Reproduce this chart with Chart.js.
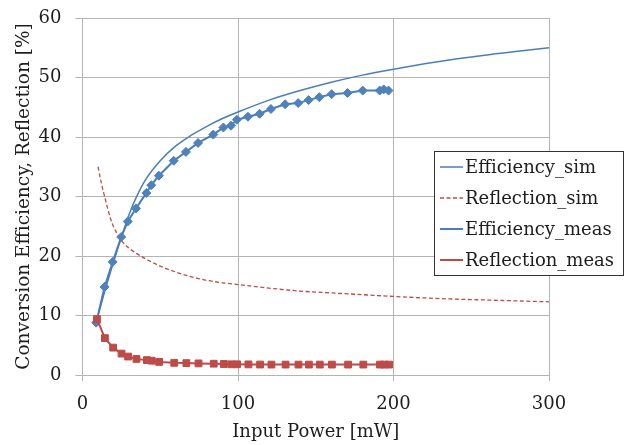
<!DOCTYPE html>
<html>
<head>
<meta charset="utf-8">
<script src="https://cdn.jsdelivr.net/npm/chart.js@4/dist/chart.umd.min.js"></script>
<style>
html,body{margin:0;padding:0;background:#fff;}
#wrap{width:632px;height:445px;}
</style>
</head>
<body>
<div id="wrap"><canvas id="c" width="632" height="445"></canvas></div>
<script>
// ---- data ----
const simX = [10, 12, 15, 18, 20, 22, 25, 30, 35, 40, 50, 60, 70, 80, 90, 100, 120, 140, 160, 180, 200, 220, 240, 260, 280, 300];
const effSim = [10.0, 11.9, 14.7, 17.3, 19.0, 20.7, 23.1, 27.0, 30.1, 32.6, 36.0, 38.5, 40.3, 41.8, 43.1, 44.2, 46.2, 47.8, 49.2, 50.4, 51.4, 52.3, 53.1, 53.8, 54.4, 55.0];
const reflSim = [35.0, 32.4, 29.2, 26.3, 24.9, 23.9, 22.6, 21.3, 20.4, 19.6, 18.3, 17.3, 16.5, 15.9, 15.5, 15.2, 14.6, 14.1, 13.8, 13.5, 13.2, 12.95, 12.75, 12.6, 12.45, 12.3];

const effMeasX = [8.8, 14.2, 19.4, 24.9, 29.1, 34.4, 41.1, 44.2, 49.1, 58.7, 66.5, 74.3, 84.1, 90.6, 95.5, 99.3, 106.4, 113.9, 121.2, 130.3, 138.7, 145.4, 152.3, 160.2, 170.4, 180.2, 191.1, 193.7, 196.8];
const effMeas = [8.8, 14.8, 19.0, 23.2, 25.8, 28.0, 30.6, 31.9, 33.5, 36.0, 37.5, 39.0, 40.4, 41.6, 41.9, 42.9, 43.4, 43.9, 44.7, 45.5, 45.7, 46.2, 46.7, 47.2, 47.4, 47.8, 47.8, 48.0, 47.8];

const reflMeasX = [9.3, 14.4, 19.7, 25.1, 29.3, 34.7, 41.4, 44.5, 49.3, 59.0, 66.8, 74.6, 84.4, 90.9, 95.8, 99.4, 106.7, 114.2, 121.5, 130.6, 138.9, 145.6, 152.6, 160.4, 170.8, 180.6, 191.3, 194.0, 197.2];
const reflMeas = [9.4, 6.2, 4.6, 3.6, 3.1, 2.7, 2.5, 2.4, 2.2, 2.05, 2.0, 1.95, 1.9, 1.85, 1.8, 1.8, 1.78, 1.76, 1.75, 1.75, 1.75, 1.75, 1.75, 1.75, 1.75, 1.75, 1.75, 1.75, 1.75];

const seriesLabels = ['Efficiency_sim', 'Reflection_sim', 'Efficiency_meas', 'Reflection_meas'];
const xTitle = 'Input Power [mW]';
const yTitle = 'Conversion Efficiency, Reflection [%]';

const pts = (xs, ys) => xs.map((x, i) => ({x: x, y: ys[i]}));

const BLUE = '#4a7ebb';
const BLUE_M = '#4f81bd';
const RED = '#be4b48';
const FONT = "'DejaVu Serif', serif";
const TXT = '#1e1e1e';
const GRID = '#b4b4b4';

const legendPlugin = {
  id: 'boxLegend',
  afterDraw(chart) {
    const ctx = chart.ctx;
    const bx = 434.5, by = 151.5, bw = 189, bh = 124;
    ctx.save();
    ctx.fillStyle = '#fff';
    ctx.fillRect(bx, by, bw, bh);
    ctx.strokeStyle = '#333';
    ctx.lineWidth = 1;
    ctx.strokeRect(bx, by, bw, bh);
    const rows = [167, 198, 229, 260];
    chart.data.datasets.forEach((ds, i) => {
      const y = rows[i];
      ctx.save();
      ctx.strokeStyle = ds.borderColor;
      ctx.lineWidth = ds.borderWidth;
      ctx.setLineDash(ds.borderDash || []);
      ctx.beginPath();
      ctx.moveTo(440, y);
      ctx.lineTo(463, y);
      ctx.stroke();
      ctx.restore();
      if (ds.pointRadius > 0) {
        ctx.save();
        ctx.fillStyle = ds.pointBackgroundColor;
        ctx.strokeStyle = ds.pointBorderColor;
        ctx.lineWidth = 1;
        Chart.helpers.drawPoint(ctx, {pointStyle: ds.pointStyle, rotation: 0, borderWidth: 1}, 451.5, y, ds.pointRadius * 0.8);
        ctx.restore();
      }
      ctx.fillStyle = TXT;
      ctx.font = "18px " + FONT;
      ctx.textBaseline = 'middle';
      ctx.textAlign = 'left';
      ctx.fillText(ds.label, 465, y + 1);
    });
    ctx.restore();
  }
};

new Chart(document.getElementById('c'), {
  type: 'scatter',
  data: {
    datasets: [
      {label: seriesLabels[0], data: pts(simX, effSim), showLine: true, borderColor: BLUE, borderWidth: 1.5,
       pointRadius: 0, cubicInterpolationMode: 'monotone', order: 3},
      {label: seriesLabels[1], data: pts(simX, reflSim), showLine: true, borderColor: RED, borderWidth: 1.3,
       borderDash: [4, 2.5], pointRadius: 0, cubicInterpolationMode: 'monotone', order: 4},
      {label: seriesLabels[2], data: pts(effMeasX, effMeas), showLine: true, borderColor: BLUE, borderWidth: 2,
       pointStyle: 'rectRot', pointRadius: 4.5, pointBackgroundColor: BLUE_M, pointBorderColor: BLUE_M,
       pointBorderWidth: 1, tension: 0, order: 2},
      {label: seriesLabels[3], data: pts(reflMeasX, reflMeas), showLine: true, borderColor: RED, borderWidth: 2,
       pointStyle: 'rect', pointRadius: 4.8, pointBackgroundColor: RED, pointBorderColor: RED,
       pointBorderWidth: 1, tension: 0, order: 1}
    ]
  },
  options: {
    responsive: false,
    animation: false,
    layout: {padding: {left: 0, top: 18, right: 83, bottom: 0}},
    plugins: {legend: {display: false}, tooltip: {enabled: false}},
    scales: {
      x: {
        type: 'linear', min: 0, max: 300,
        ticks: {stepSize: 100, color: TXT, font: {family: FONT, size: 18}, padding: 13, maxRotation: 0},
        grid: {color: GRID, lineWidth: 1, tickLength: 6, drawTicks: true},
        border: {color: GRID},
        title: {display: true, text: xTitle, color: TXT, font: {family: FONT, size: 18}, padding: {top: 0, bottom: 2}},
        afterFit(s) { s.height = 70; s.paddingLeft = 0; s.paddingRight = 0; }
      },
      y: {
        type: 'linear', min: 0, max: 60,
        ticks: {stepSize: 10, color: TXT, font: {family: FONT, size: 18}, padding: 14},
        grid: {color: GRID, lineWidth: 1, tickLength: 7, drawTicks: true},
        border: {color: GRID},
        title: {display: true, text: yTitle, color: TXT, font: {family: FONT, size: 18.5}, padding: {top: 13, bottom: 0}},
        afterFit(s) { s.width = 82.5; s.paddingTop = 0; s.paddingBottom = 0; }
      }
    }
  },
  plugins: [legendPlugin]
});
</script>
</body>
</html>
